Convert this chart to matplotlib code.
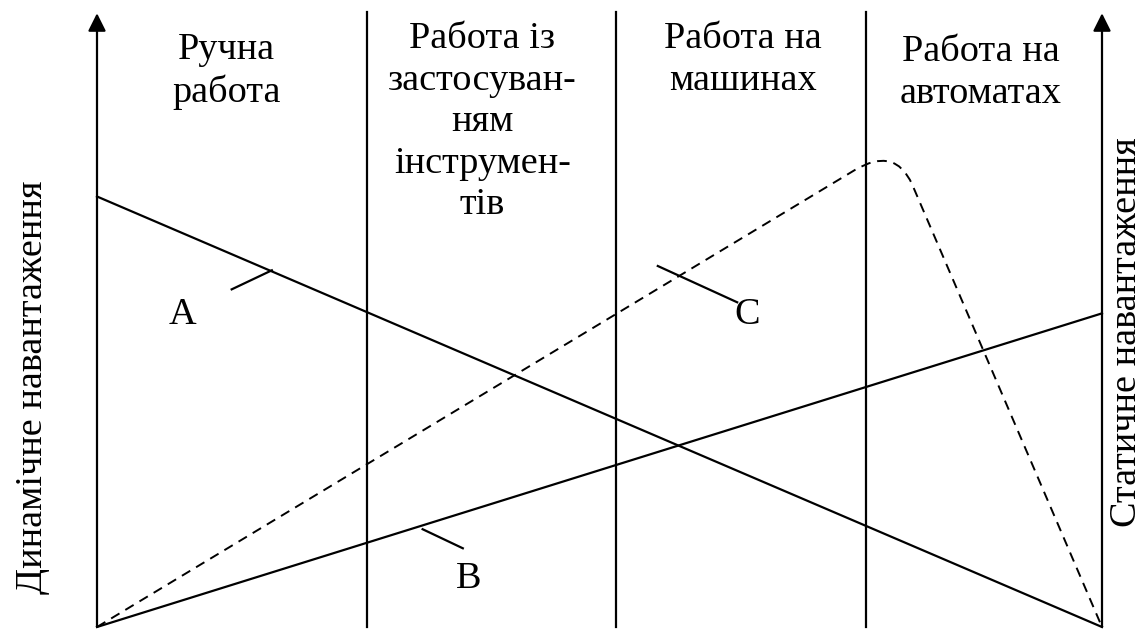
import matplotlib
matplotlib.use("Agg")
from matplotlib import pyplot as plt
from matplotlib.path import Path
from matplotlib.patches import PathPatch

plt.rcParams["font.family"] = ["Liberation Serif", "DejaVu Serif"]

# positions in % of the chart width (0 = left axis, 100 = right axis) and height
stages = ["Ручна\nработа",
          "Работа із\nзастосуван-\nням\nінструмен-\nтів",
          "Работа на\nмашинах",
          "Работа на\nавтоматах"]
bounds = [0, 26.9, 51.6, 76.5, 100]
stage_dx = [-0.6, -0.9, 0.2, -0.3]
stage_top = [96.6, 98.4, 98.4, 96.3]

line_a_x = [0, 100]
line_a_y = [70, 0]
line_b_x = [0, 100]
line_b_y = [0, 51]
# dashed curve C: straight rise, rounded corner, straight fall
line_c_x = [0, 75.4, 79.4, 81.1, 100]
line_c_y = [0, 74.3, 78.2, 72.0, 0]

labels = ["A", "B", "C"]
label_x = [8.5, 37.0, 64.7]
label_y = [50.7, 7.8, 50.7]
leader_x = [(13.4, 17.4), (32.4, 36.4), (55.8, 63.7)]
leader_y = [(54.9, 58.0), (15.9, 12.8), (58.7, 52.8)]

W, H = 1146, 629
fig = plt.figure(figsize=(W / 100, H / 100), dpi=100)
ax = fig.add_axes([97 / W, 2 / H, (1102 - 97) / W, (627 - 12) / H])
ax.set_xlim(0, 100)
ax.set_ylim(0, 100)
ax.axis("off")

fs = 27.5
lw = 1.6
for x in bounds[1:-1]:
    ax.plot([x, x], [0, 100], color="black", lw=lw, clip_on=False)

for x in (bounds[0], bounds[-1]):
    ax.annotate("", xy=(x, 99.8), xytext=(x, 0),
                arrowprops=dict(arrowstyle="-|>", mutation_scale=27, lw=lw,
                                color="black", shrinkA=0, shrinkB=0))

ax.plot(line_a_x, line_a_y, color="black", lw=lw, clip_on=False)
ax.plot(line_b_x, line_b_y, color="black", lw=lw, clip_on=False)

codes = [Path.MOVETO, Path.LINETO, Path.CURVE3, Path.CURVE3, Path.LINETO]
path_c = Path(list(zip(line_c_x, line_c_y)), codes)
ax.add_patch(PathPatch(path_c, fill=False, lw=1.4, ls=(0, (5, 3.5)),
                       edgecolor="black", clip_on=False))

for lab, tx, ty, lx, ly in zip(labels, label_x, label_y, leader_x, leader_y):
    ax.plot(lx, ly, color="black", lw=lw)
    ax.text(tx, ty, lab, fontsize=fs, ha="center", va="center")

for i, name in enumerate(stages):
    cx = (bounds[i] + bounds[i + 1]) / 2 + stage_dx[i]
    ax.text(cx, stage_top[i], name, fontsize=fs, ha="center", va="top",
            linespacing=1.26, clip_on=False)

fig.text(33 / W, 1 - 387 / H, "Динамічне навантаження", fontsize=fs,
         rotation=90, ha="center", va="center")
fig.text(1127 / W, 1 - 332 / H, "Статичне навантаження", fontsize=fs,
         rotation=90, ha="center", va="center")

fig.savefig("out.png", dpi=100)
